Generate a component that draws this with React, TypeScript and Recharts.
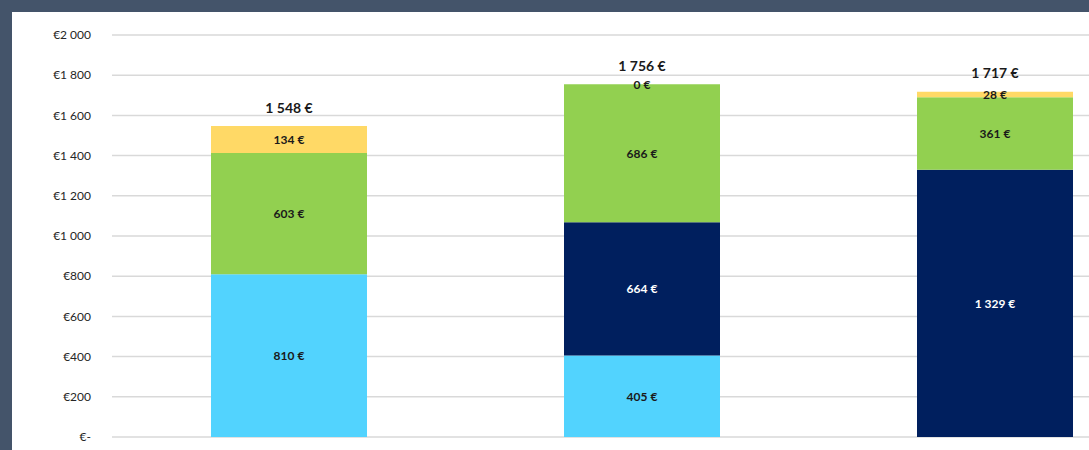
import React from 'react';
import { BarChart, Bar, XAxis, YAxis, CartesianGrid, LabelList } from 'recharts';

const categories = ['Option 1', 'Option 2', 'Option 3'];
const blueValues = [810, 405, null];
const navyValues = [null, 664, 1329];
const greenValues = [603, 686, 361];
const yellowValues = [134, 0, 28];
const totals = [1548, 1756, 1717];
const yTicks = [0, 200, 400, 600, 800, 1000, 1200, 1400, 1600, 1800, 2000];

const data = categories.map((name, i) => ({
  name,
  blue: blueValues[i],
  navy: navyValues[i],
  green: greenValues[i],
  yellow: yellowValues[i],
  total: totals[i],
}));

const FONT = 'Lato, "Open Sans", sans-serif';

const groupThousands = (v: number) => String(v).replace(/\B(?=(\d{3})+(?!\d))/g, ' ');
const euro = (v: number) => `${groupThousands(v)} €`;
const axisEuro = (v: number) => (v === 0 ? '€-' : `€${groupThousands(v)}`);

const segmentLabel = (color: string) => (props: any) => {
  const { x, y, width, height, value } = props;
  if (value === null || value === undefined || value === 0) return null;
  return (
    <text
      x={Number(x) + Number(width) / 2}
      y={Number(y) + Number(height) / 2}
      textAnchor="middle"
      dominantBaseline="central"
      fill={color}
      fontFamily={FONT}
      fontSize={12}
      fontWeight={700}
    >
      {euro(value)}
    </text>
  );
};

// green has height in every category, so the stack top (and the empty
// yellow label) is measured from it
const topLabels = (props: any) => {
  const { x, y, width, height, index } = props;
  const g = greenValues[index];
  const yel = yellowValues[index];
  if (g == null || yel == null) return null;
  const pxPerUnit = Number(height) / g;
  const top = Number(y) - yel * pxPerUnit;
  const cx = Number(x) + Number(width) / 2;
  return (
    <g>
      {yel === 0 && (
        <text
          x={cx}
          y={top}
          textAnchor="middle"
          dominantBaseline="central"
          fill="#1a1a1a"
          fontFamily={FONT}
          fontSize={12}
          fontWeight={700}
        >
          {euro(0)}
        </text>
      )}
      <text
        x={cx}
        y={top - 19}
        textAnchor="middle"
        dominantBaseline="central"
        fill="#1a1a1a"
        fontFamily={FONT}
        fontSize={14}
        fontWeight={700}
      >
        {euro(totals[index])}
      </text>
    </g>
  );
};

export default function App() {
  return (
    <div
      style={{
        position: 'fixed',
        left: 0,
        top: 0,
        width: 1089,
        height: 450,
        background: '#44546A',
        overflow: 'hidden',
      }}
    >
      <div
        style={{
          position: 'absolute',
          left: 12,
          top: 12,
          width: 1077,
          height: 438,
          background: '#ffffff',
          overflow: 'hidden',
        }}
      >
        <BarChart
          width={1159}
          height={438}
          data={data}
          margin={{ top: 23, right: 0, bottom: 13, left: 0 }}
        >
          <CartesianGrid horizontal vertical={false} stroke="#d9d9d9" strokeWidth={1.5} />
          <XAxis dataKey="name" hide />
          <YAxis
            width={100}
            domain={[0, 2000]}
            ticks={yTicks}
            axisLine={false}
            tickLine={false}
            tickMargin={15}
            tickFormatter={axisEuro}
            tick={{ fill: '#262626', fontSize: 12, fontFamily: FONT }}
          />
          <Bar dataKey="blue" stackId="a" fill="#52D3FE" barSize={156} isAnimationActive={false}>
            <LabelList dataKey="blue" content={segmentLabel('#1a1a1a')} />
          </Bar>
          <Bar dataKey="navy" stackId="a" fill="#001F5E" barSize={156} isAnimationActive={false}>
            <LabelList dataKey="navy" content={segmentLabel('#ffffff')} />
          </Bar>
          <Bar dataKey="green" stackId="a" fill="#92D050" barSize={156} isAnimationActive={false}>
            <LabelList dataKey="green" content={segmentLabel('#1a1a1a')} />
            <LabelList dataKey="total" content={topLabels} />
          </Bar>
          <Bar dataKey="yellow" stackId="a" fill="#FFD966" barSize={156} isAnimationActive={false}>
            <LabelList dataKey="yellow" content={segmentLabel('#1a1a1a')} />
          </Bar>
        </BarChart>
      </div>
    </div>
  );
}
